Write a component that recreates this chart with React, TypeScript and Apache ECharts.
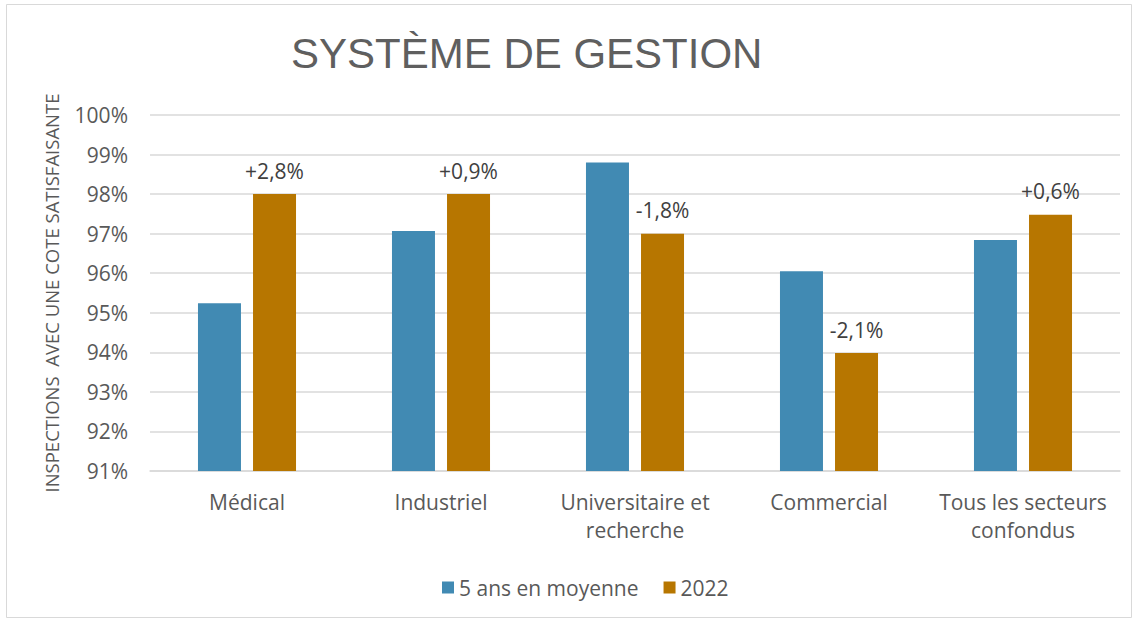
import React, { useEffect, useRef } from "react";
import * as echarts from "echarts";

const categories = ["Médical", "Industriel", "Universitaire et\nrecherche", "Commercial", "Tous les secteurs\nconfondus"];
const avg5Years = [95.24, 97.07, 98.8, 96.05, 96.84];
const year2022 = [98.0, 98.0, 97.0, 93.98, 97.48];
const diffLabels = ["+2,8%", "+0,9%", "-1,8%", "-2,1%", "+0,6%"];
const seriesNames = ["5 ans en moyenne", "2022"];
const titleText = "SYSTÈME DE GESTION";
const yAxisName = "INSPECTIONS  AVEC UNE COTE SATISFAISANTE";

const FONT = "Open Sans";

export default function App() {
  const ref = useRef<HTMLDivElement>(null);
  useEffect(() => {
    if (!ref.current) return;
    const chart = echarts.init(ref.current, null, { renderer: "svg" });
    chart.setOption({
      animation: false,
      backgroundColor: "#ffffff",
      textStyle: { fontFamily: FONT },
      graphic: [
        {
          type: "rect",
          shape: { x: 6.5, y: 4.5, width: 1125, height: 613 },
          style: { fill: "none", stroke: "#d9d9d9", lineWidth: 1 },
          silent: true,
        },
      ],
      title: {
        text: titleText,
        left: 286,
        top: 27,
        textStyle: { fontFamily: "Liberation Sans", fontSize: 42, fontWeight: "normal", color: "#5f5f5f" },
      },
      legend: {
        data: seriesNames,
        left: 437,
        top: 572,
        icon: "rect",
        itemWidth: 12,
        itemHeight: 12,
        itemGap: 25,
        textStyle: { fontFamily: FONT, fontSize: 21, color: "#595959" },
      },
      grid: { left: 150, right: 19, top: 115, bottom: 149 },
      xAxis: {
        type: "category",
        data: categories,
        axisLine: { lineStyle: { color: "#d9d9d9", width: 1.5 } },
        axisTick: { show: false },
        axisLabel: {
          fontFamily: FONT,
          fontSize: 21,
          color: "#595959",
          margin: 17,
          lineHeight: 28,
          interval: 0,
        },
      },
      yAxis: {
        type: "value",
        min: 91,
        max: 100,
        interval: 1,
        name: yAxisName,
        nameLocation: "middle",
        nameRotate: 90,
        nameGap: 89,
        nameTextStyle: { fontFamily: FONT, fontSize: 18.5, color: "#595959" },
        axisLine: { show: false },
        axisTick: { show: false },
        axisLabel: {
          formatter: "{value}%",
          fontFamily: FONT,
          fontSize: 21,
          color: "#595959",
          margin: 22,
        },
        splitLine: { lineStyle: { color: "#d9d9d9", width: 1.5 } },
      },
      series: [
        {
          name: seriesNames[0],
          type: "bar",
          data: avg5Years,
          barWidth: 43,
          barGap: "28%",
          itemStyle: { color: "#418AB3" },
        },
        {
          name: seriesNames[1],
          type: "bar",
          data: year2022,
          barWidth: 43,
          itemStyle: { color: "#B77600" },
          label: {
            show: true,
            position: "top",
            distance: 13,
            fontFamily: FONT,
            fontSize: 21,
            color: "#404040",
            formatter: (p: any) => diffLabels[p.dataIndex],
          },
        },
      ],
    });
    return () => chart.dispose();
  }, []);
  return (
    <div
      ref={ref}
      style={{ position: "fixed", left: 0, top: 0, width: 1139, height: 620 }}
    />
  );
}
